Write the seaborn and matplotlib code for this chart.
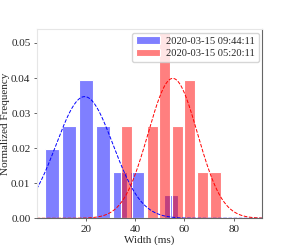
import numpy as np
import matplotlib
matplotlib.use("Agg")
import matplotlib.pyplot as plt
import seaborn as sns

# blue series: bin edges and normalized frequencies
blue_label = "2020-03-15 09:44:11"
blue_edges = [2.8, 9.7, 16.6, 23.5, 30.4, 37.3, 44.2, 51.1, 58.0]
blue_freq = [0.0198, 0.0264, 0.0395, 0.0264, 0.0132, 0.0132, 0.0, 0.0066]
blue_mean, blue_std = 19.6, 11.5

# red series
red_label = "2020-03-15 05:20:11"
red_edges = [34.2, 39.3, 44.4, 49.5, 54.6, 59.7, 64.8, 69.9, 75.0]
red_freq = [0.0263, 0.0, 0.0263, 0.0528, 0.0263, 0.0394, 0.0131, 0.0131]
red_mean, red_std = 55.3, 10.0

x_range = (0.2, 91.6)

sns.set_style("white")
plt.rcParams["font.family"] = ["Liberation Serif", "DejaVu Serif"]
plt.rcParams["xtick.bottom"] = True
plt.rcParams["ytick.left"] = True

fig = plt.figure(figsize=(2.91, 2.45), dpi=100)
ax = fig.add_axes([0.126, 0.109, 0.776, 0.773])

def centers(edges):
    e = np.array(edges)
    return (e[:-1] + e[1:]) / 2

sns.histplot(x=centers(blue_edges), weights=blue_freq, bins=blue_edges,
             shrink=0.83, color="blue", alpha=0.5, edgecolor="white",
             linewidth=0.8, label=blue_label, ax=ax)
sns.histplot(x=centers(red_edges), weights=red_freq, bins=red_edges,
             shrink=0.87, color="red", alpha=0.5, edgecolor="white",
             linewidth=0.8, label=red_label, ax=ax)

xs = np.linspace(x_range[0], x_range[1], 200)
for m, s, c in [(blue_mean, blue_std, "blue"), (red_mean, red_std, "red")]:
    pdf = np.exp(-(xs - m) ** 2 / (2 * s ** 2)) / (s * np.sqrt(2 * np.pi))
    sns.lineplot(x=xs, y=pdf, color=c, linestyle="--", linewidth=0.7, ax=ax)

ax.set_xlim(*x_range)
ax.set_ylim(0, 0.054)
ax.set_xticks([20, 40, 60, 80])
ax.set_yticks([0.0, 0.01, 0.02, 0.03, 0.04, 0.05])
ax.yaxis.set_major_formatter(matplotlib.ticker.FormatStrFormatter("%.2f"))
ax.tick_params(labelsize=8, length=2.5, width=0.6, color="0.3", pad=2)
ax.set_xlabel("Width (ms)", fontsize=8, labelpad=1)
ax.set_ylabel("Normalized Frequency", fontsize=8, labelpad=1)

for side in ["left", "top"]:
    ax.spines[side].set_color("0.9")
for side in ["bottom", "right"]:
    ax.spines[side].set_color("0.4")
for sp in ax.spines.values():
    sp.set_linewidth(0.8)

ax.legend(loc="upper right", fontsize=7.6, handlelength=2.3, borderaxespad=0.35,
          labelspacing=0.3, borderpad=0.35, handletextpad=0.6)

fig.savefig("out.png", dpi=100)
